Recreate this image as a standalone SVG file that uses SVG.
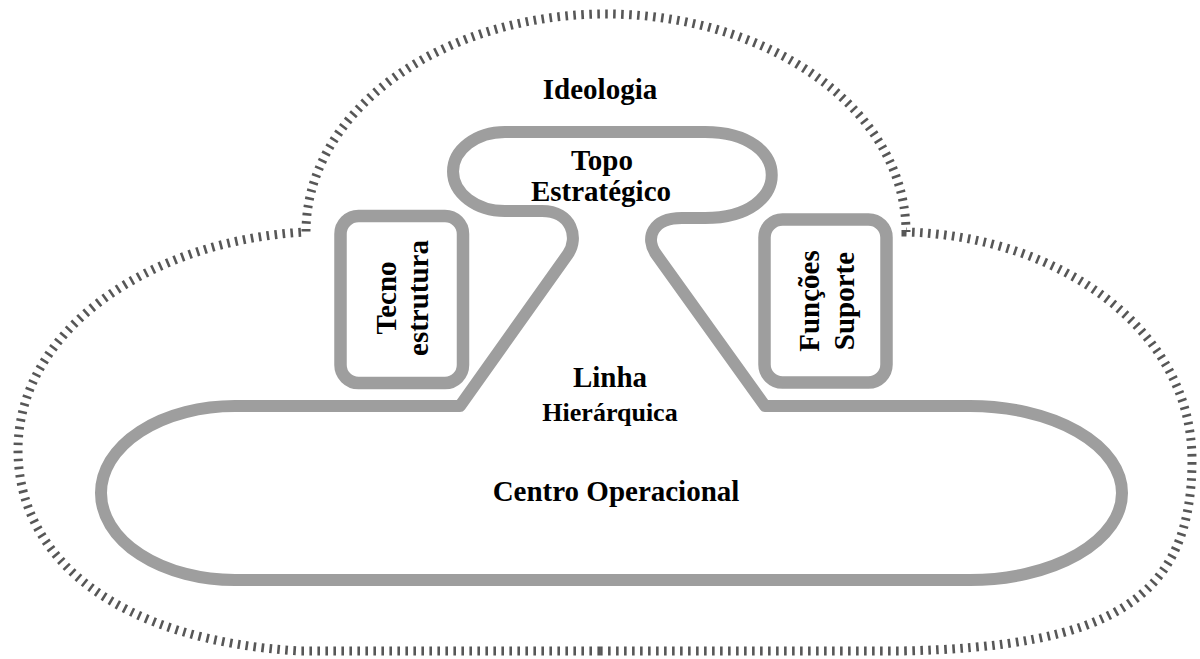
<svg xmlns="http://www.w3.org/2000/svg" width="1200" height="659" viewBox="0 0 1200 659">
  <style>
    .lbl { font-family: "Liberation Serif", "Times New Roman", serif; font-weight: bold; font-size: 29px; fill: #000; text-anchor: middle; }
    .part { fill: none; stroke: #9e9e9e; stroke-width: 12; stroke-linejoin: round; }
    .box { fill: #fff; stroke: #9e9e9e; stroke-width: 12.5; }
    .ticks { fill: none; stroke: #3a3a3a; stroke-width: 9; stroke-dasharray: 2.6 5.4; stroke-opacity: 0.85; }
  </style>
  <rect width="1200" height="659" fill="#fff"/>

  <g id="ideologia">
    <path class="ticks" d="M 600,651 L 300,651 C 120,641 18,560 18,450 C 18,330 150,240 306,232 A 300 218 0 0 1 906,232 C 1060,236 1192,330 1192,460 C 1192,600 1110,647 900,651 Z"/>
    <text class="lbl" x="600" y="99">Ideologia</text>
  </g>

  <g id="nucleo">
    <path class="part" d="M 505,132 L 705,132 C 794,132 794,218 705,218 L 682,218 C 652,218 645,238 656,254 L 765,406 L 970,406 A 152 87 0 0 1 970,580 L 235,580 A 134 87 0 0 1 235,406 L 460,406 L 568,254 C 579,238 572,211 542,211 L 505,211 A 52 39.5 0 0 1 505,132 Z"/>
  </g>

  <g id="topo-estrategico">
    <text class="lbl" x="602" y="170">Topo</text>
    <text class="lbl" x="601" y="201">Estratégico</text>
  </g>

  <g id="linha-hierarquica">
    <text class="lbl" x="610" y="387">Linha</text>
    <text class="lbl" x="610" y="421" style="font-size:26px">Hierárquica</text>
  </g>

  <g id="centro-operacional">
    <text class="lbl" x="616" y="501">Centro Operacional</text>
  </g>

  <g id="tecnoestrutura">
    <rect class="box" x="340.5" y="216" width="122.5" height="167" rx="18"/>
    <text class="lbl" transform="translate(396,298) rotate(-90)">Tecno</text>
    <text class="lbl" transform="translate(428,298) rotate(-90)">estrutura</text>
  </g>

  <g id="funcoes-suporte">
    <rect class="box" x="764.5" y="219.5" width="122" height="163" rx="18"/>
    <text class="lbl" transform="translate(819,301) rotate(-90)">Funções</text>
    <text class="lbl" transform="translate(854,301) rotate(-90)">Suporte</text>
  </g>
</svg>
